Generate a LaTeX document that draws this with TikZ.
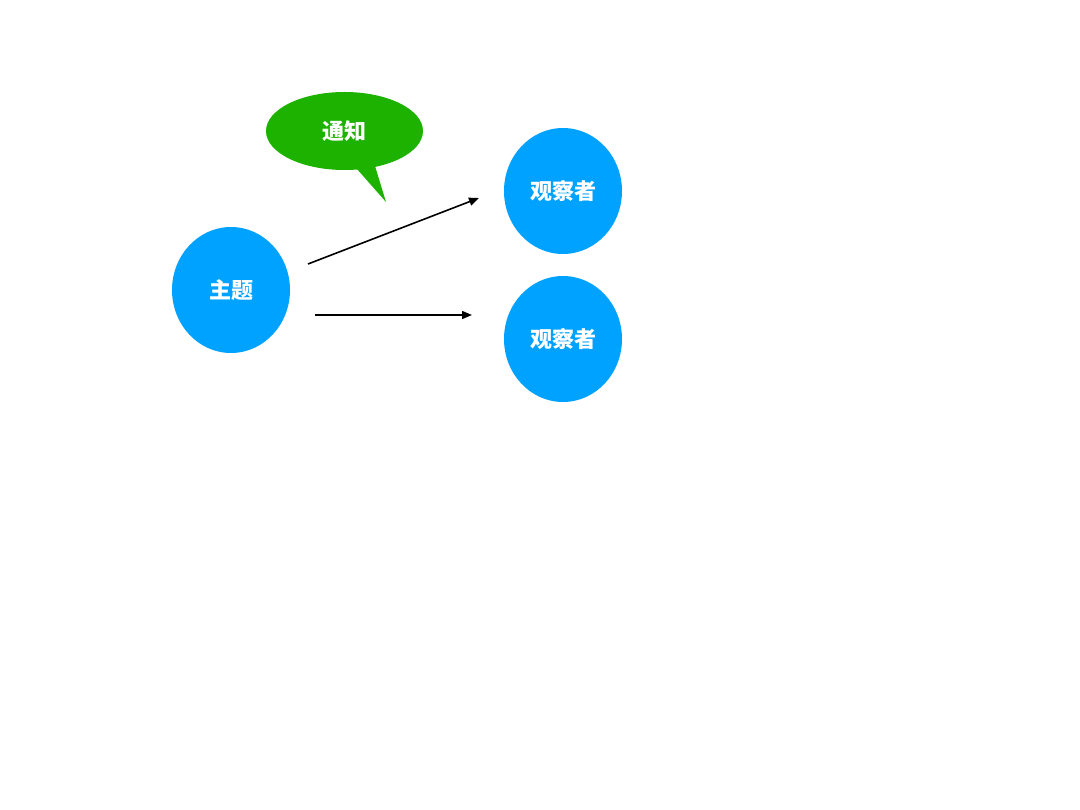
\documentclass[tikz,border=0pt]{standalone}
\usepackage{fontspec}
\newfontfamily\cjk{Noto Sans CJK SC}
\usetikzlibrary{shapes.geometric,arrows.meta,positioning}
\definecolor{roleblue}{RGB}{0,162,255}
\definecolor{notegreen}{RGB}{29,177,0}

\begin{document}
\begin{tikzpicture}[x=1pt,y=-1pt,
    role/.style={ellipse,fill=roleblue,minimum width=118pt,minimum height=126pt,
      inner sep=0pt,text=white,font=\cjk\bfseries\fontsize{22}{26}\selectfont},
    msg/.style={-{Triangle[length=10pt,width=8pt]},line width=1.6pt}]
    \useasboundingbox[fill=white] (0,0) rectangle (1080,810);

      % Subject
      \node[role] (subject) at (231, 290) {主题};

      % Observers
      \node[role] (obsA) at (563, 191) {观察者};
      \node[role] (obsB) at (563, 339) {观察者};

      % Notify bubble
      \fill[notegreen] (357, 169) -- (386, 202) -- (375, 166) -- cycle;
      \node[ellipse,fill=notegreen,minimum width=157pt,minimum height=78pt,
        inner sep=0pt,text=white,font=\cjk\bfseries\fontsize{22}{26}\selectfont]
        (notify) at (344.5, 131) {通知};

      % Messages
      \coordinate (fromA) at (308, 264);
      \coordinate (toA) at (479, 198);
      \coordinate (fromB) at (315, 315);
      \coordinate (toB) at (472, 315);
      \draw[msg] (fromA) -- (toA);
      \draw[msg] (fromB) -- (toB);
  \end{tikzpicture}
\end{document}
